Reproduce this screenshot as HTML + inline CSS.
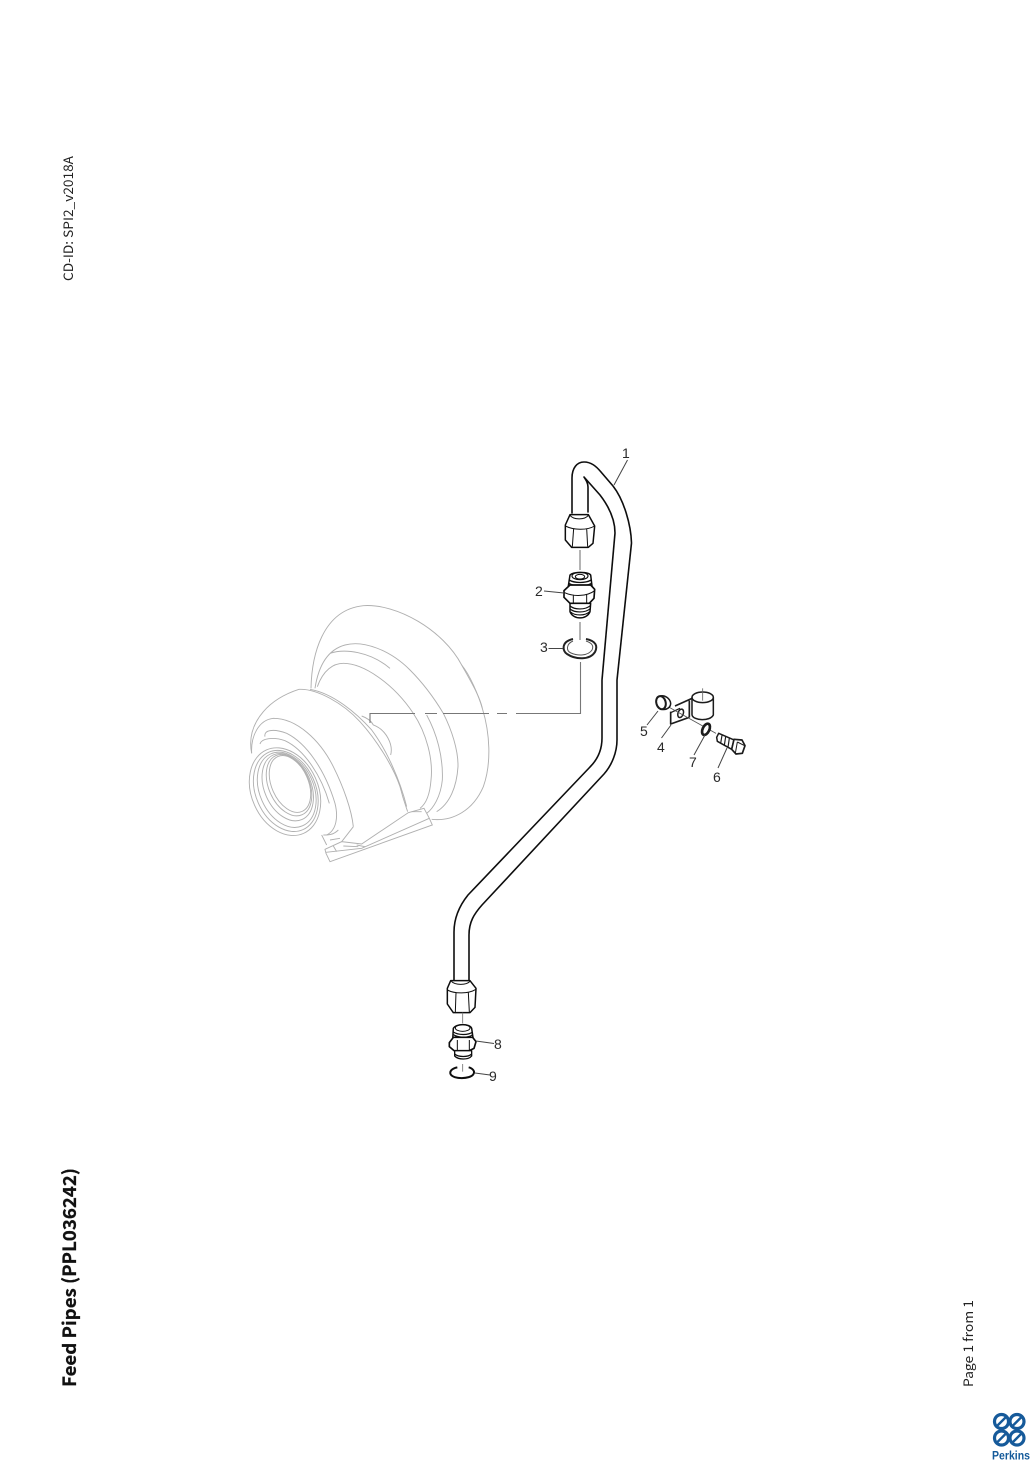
<!DOCTYPE html>
<html>
<head>
<meta charset="utf-8">
<style>
html,body{margin:0;padding:0;background:#fff;width:1033px;height:1461px;overflow:hidden}
svg{display:block}
text{font-family:"Liberation Sans",sans-serif}
.lbl{font-size:14px;fill:#2a2a2a}
.tt{font-family:"Noto Sans CJK JP","Liberation Sans",sans-serif}
</style>
</head>
<body>
<svg width="1033" height="1461" viewBox="0 0 1033 1461" xmlns="http://www.w3.org/2000/svg">
<defs><filter id="b" x="-5%" y="-5%" width="110%" height="110%"><feGaussianBlur stdDeviation="0.35"/></filter></defs>
<rect width="1033" height="1461" fill="#fff"/>

<!-- Page text -->
<text class="tt" transform="translate(73,281) rotate(-90)" font-size="13" fill="#222" textLength="125" lengthAdjust="spacingAndGlyphs">CD-ID: SPI2_v2018A</text>
<text class="tt" transform="translate(76,1387) rotate(-90)" font-size="18" font-weight="700" fill="#111" stroke="#111" stroke-width=".25" textLength="219" lengthAdjust="spacingAndGlyphs">Feed Pipes (PPL036242)</text>
<text class="tt" transform="translate(973,1387) rotate(-90)" font-size="13" fill="#222" textLength="87" lengthAdjust="spacingAndGlyphs">Page 1 from 1</text>

<g filter="url(#b)">
<!-- Turbocharger (coords = zoom x3) -->
<g transform="translate(230,590) scale(.33333)" fill="none" stroke="#b0b0b0" stroke-width="2.8">
  <path d="M243,295 C245,200 275,60 400,47 C500,40 640,120 695,225 C720,270 750,320 757,355 C780,430 785,520 760,590 C730,660 670,695 605,688"/>
  <path d="M695,225 C720,255 745,315 757,355"/>
  <path d="M255,295 C265,230 290,180 345,165 C400,150 480,180 540,240 C575,275 610,320 640,370 C665,420 685,480 684,530 C680,590 660,640 620,665"/>
  <path d="M300,190 C345,175 420,185 480,235"/>
  <path d="M262,290 C280,240 310,220 340,220 C400,220 490,280 550,370 C590,430 610,510 603,570 C600,610 590,640 570,655"/>
  <path d="M590,375 C620,430 640,500 637,570 C632,620 610,655 590,670"/>
  <path d="M207,298 C260,295 340,340 390,395 C440,450 490,530 510,590 C520,630 528,650 533,665"/>
  <path d="M240,298 C310,310 380,370 425,420 C470,480 510,570 530,650"/>
  <path d="M207,298 C170,310 130,330 100,365 C70,400 55,440 65,490"/>
  <path d="M65,490 C62,440 85,390 130,385 C200,385 270,450 310,530 C340,590 365,660 370,710"/>
  <path d="M395,378 C415,385 425,395 430,405 C470,420 490,465 482,495"/>
  <path d="M105,440 C100,420 130,415 170,430 C230,460 285,540 315,640 C325,680 320,720 290,735"/>
  <path d="M90,462 C95,445 130,440 165,452 C225,480 275,560 298,640"/>
  <!-- front rings -->
  <g transform="rotate(-24 165 605)">
    <ellipse cx="165" cy="605" rx="100" ry="137"/>
    <ellipse cx="168" cy="604" rx="90" ry="127"/>
    <ellipse cx="172" cy="602" rx="81" ry="118"/>
    <ellipse cx="178" cy="596" rx="70" ry="106"/>
    <ellipse cx="184" cy="592" rx="61" ry="97"/>
    <ellipse cx="188" cy="590" rx="55" ry="90"/>
  </g>
  <path d="M275,735 L290,765 M325,720 C310,735 295,735 280,735 M330,745 L300,750"/>
  <!-- flange -->
  <path d="M370,710 L335,755" />
  <path d="M285,778 L335,755 L395,762 L535,668 L582,655 L598,685 L607,705 L300,815 L288,790 Z" fill="#fff"/>
  <path d="M288,787 L395,775 L598,685"/>
  <path d="M310,768 L320,785 M380,765 L405,770 M545,665 L575,665 M340,768 L385,770"/>
</g>

<!-- Leader from turbo to ring -->
<g fill="none" stroke="#777" stroke-width="1.1">
  <path d="M370,723 L370,713.5 L415,713.5 M425,713.5 L437,713.5 M443,713.5 L489,713.5 M497,713.5 L507,713.5 M516,713.5 L580.5,713.5 L580.5,662"/>
  <path d="M580,550 L580,570 M580,622 L580,640"/>
</g>

<!-- Pipe -->
<g fill="none" stroke="#111" stroke-width="1.6" stroke-linejoin="round" stroke-linecap="round">
  <path d="M572,513 L572,478 C572,468 577,462 584,462 C591,462 596,466 601,472 L613,486 C624,500 631,525 631.5,543 L617,680 L617,740 C617,752 612,765 604,774 L482,905 C474,914 469,922 469,935 L469,982"/>
  <path d="M588,512 L588,487 C588,483 586,480 584,477 L600,495 C610,508 615,520 615,533 L602,680 L602,738 C602,750 597,760 590,767 L468,895 C460,905 454,918 454,932 L454,982"/>
</g>

<!-- Upper nut -->
<g transform="translate(520,440) scale(.33333)" fill="#fff" stroke="#111" stroke-width="4.5" stroke-linejoin="round">
  <path d="M150,224 L205,224 L224,258 L219,310 L205,322 L155,322 L136,300 L136,255 Z"/>
  <path d="M136,258 C160,270 200,272 224,258 M161,265 L157,320 M200,265 L203,320" fill="none" stroke-width="3"/>
  <path d="M150,226 C160,240 195,240 205,226" fill="none" stroke-width="3"/>
  <!-- fitting 2 -->
  <path d="M150,405 C160,395 205,395 212,405 L216,438 L145,438 Z"/>
  <ellipse cx="180" cy="408" rx="24" ry="11" fill="none" stroke-width="3.5"/>
  <ellipse cx="180" cy="410" rx="14" ry="7" fill="none" stroke-width="3"/>
  <path d="M147,420 C165,430 195,430 214,420 M146,430 C165,440 195,440 215,430" fill="none" stroke-width="4"/>
  <path d="M132,452 L150,435 L212,435 L224,448 L222,475 L208,490 L150,490 L132,472 Z" stroke-width="5"/>
  <path d="M134,458 C160,470 200,470 224,452 M160,464 L160,490 M200,464 L200,488" fill="none" stroke-width="3"/>
  <path d="M150,490 L150,515 C160,540 200,540 210,515 L212,490 Z"/>
  <path d="M150,498 C165,510 195,510 211,497 M150,507 C165,519 195,519 211,506 M152,516 C165,528 195,528 209,515" fill="none" stroke-width="3.5"/>
</g>
<!-- Ring 3 -->
<path d="M573,639 C560,642 563,652 567,654 C576,660 590,660 595,652 C598,646 596,641 586,639" fill="none" stroke="#222" stroke-width="2"/>
<path d="M573,641 C566,644 566,651 571,653 C578,656 588,656 592,650 C594,646 592,643 586,641" fill="none" stroke="#555" stroke-width="1"/>

<!-- Lower nut and fittings -->
<g transform="translate(420,960) scale(.33333)" fill="#fff" stroke="#111" stroke-width="4.5" stroke-linejoin="round">
  <path d="M92,62 L150,62 L168,85 L165,142 L150,158 L100,158 L82,132 L82,85 Z"/>
  <path d="M82,90 C105,102 145,102 168,88 M108,98 L106,156 M145,98 L148,156" fill="none" stroke-width="3"/>
  <path d="M94,64 C105,76 140,76 150,64" fill="none" stroke-width="3"/>
  <path d="M128,158 L128,190" stroke="#777" stroke-width="2.6" fill="none"/>
  <path d="M100,205 C108,190 150,190 155,205 L160,240 L98,240 Z"/>
  <ellipse cx="128" cy="204" rx="22" ry="10" fill="none" stroke-width="3"/>
  <path d="M100,216 C115,226 145,226 158,216 M100,224 C115,234 145,234 158,224 M100,232 C115,242 145,242 158,232" fill="none" stroke-width="3.5"/>
  <path d="M88,248 L100,232 L158,232 L168,245 L162,265 L148,272 L102,272 L88,260 Z" stroke-width="5"/>
  <path d="M112,240 L112,272 M148,240 L148,270" stroke-width="3" fill="none"/>
  <path d="M104,272 L104,288 C115,300 145,300 155,288 L155,272 Z" stroke-width="4"/>
  <path d="M104,282 C115,292 145,292 155,282" fill="none" stroke-width="4"/>
  <path d="M128,312 L128,335" stroke="#777" stroke-width="2.6" fill="none"/>
  <path d="M112,322 C95,325 88,335 92,343 C100,358 150,358 160,343 C166,334 158,325 146,322" fill="none" stroke-width="6"/>
</g>

<!-- Clamp group -->
<g transform="translate(630,680) scale(.33333)" fill="none" stroke="#1a1a1a" stroke-width="4" stroke-linejoin="round">
  <path d="M135,78 L186,55 M178,62 L178,112 M122,95 L122,132 L178,112" stroke-width="5"/>
  <path d="M122,98 L150,85" stroke-width="3.5"/>
  <ellipse cx="152" cy="100" rx="8" ry="13" transform="rotate(20 152 100)" stroke-width="4.5"/>
  <ellipse cx="218" cy="52" rx="32" ry="16" fill="#fff" stroke-width="4.5"/>
  <path d="M186,52 L186,105 C190,122 240,125 250,105 L250,52" stroke-width="4.5"/>
  <path d="M218,25 L218,62" stroke="#666" stroke-width="2.5"/>
  <path d="M118,82 L258,160" stroke="#555" stroke-width="2.5"/>
  <path d="M90,48 C105,45 120,55 122,70 C122,82 110,90 98,88" fill="#fff" stroke-width="4.5"/>
  <ellipse cx="93" cy="68" rx="14" ry="20" fill="#fff" transform="rotate(-15 93 68)" stroke-width="6"/>
  <ellipse cx="228" cy="148" rx="10" ry="18" fill="#fff" transform="rotate(25 228 148)" stroke-width="8"/>
  <path d="M260,172 L266,160 L312,180 L305,208 L262,184 Z" fill="#fff" stroke-width="4.5"/>
  <path d="M276,166 L272,190 M287,170 L283,196 M298,175 L294,202" stroke-width="3.5"/>
  <path d="M312,178 L336,180 L345,197 L337,220 L318,222 L305,208 Z" fill="#fff" stroke-width="5"/>
  <path d="M322,186 L344,197 M322,186 L316,220" stroke-width="3"/>
</g>

<!-- Label leaders -->
<g fill="none" stroke="#444" stroke-width="1">
  <path d="M627.5,460 L614,485"/>
  <path d="M544,591 L564,593"/>
  <path d="M548.5,648.5 L563,648.5"/>
  <path d="M476,1041 L494,1043.5"/>
  <path d="M475,1073 L490,1075"/>
  <path d="M647,725 L658,711"/>
  <path d="M661.5,738 L671,725"/>
  <path d="M694,755 L705,735"/>
  <path d="M718,768 L727,748"/>
</g>

<!-- Perkins logo -->
<g fill="none" stroke="#145a9a" stroke-width="3.2">
  <circle cx="1001.5" cy="1421.5" r="7"/>
  <circle cx="1017" cy="1421.5" r="7"/>
  <circle cx="1001.5" cy="1438" r="7"/>
  <circle cx="1017" cy="1438" r="7"/>
  <path d="M996.5,1426.5 L1006.5,1416.5 M1012,1426.5 L1022,1416.5 M996.5,1443 L1006.5,1433 M1012,1443 L1022,1433" stroke-width="2.4"/>
</g>
</g>

<!-- Labels -->
<text class="lbl" x="622" y="458">1</text>
<text class="lbl" x="535" y="596">2</text>
<text class="lbl" x="540" y="652">3</text>
<text class="lbl" x="657" y="752">4</text>
<text class="lbl" x="640" y="736">5</text>
<text class="lbl" x="713" y="782">6</text>
<text class="lbl" x="689" y="767">7</text>
<text class="lbl" x="494" y="1049">8</text>
<text class="lbl" x="489" y="1081">9</text>
<text x="992" y="1459.5" font-size="11.5" font-weight="700" fill="#145a9a" textLength="38" lengthAdjust="spacingAndGlyphs">Perkins</text>
</svg>
</body>
</html>
